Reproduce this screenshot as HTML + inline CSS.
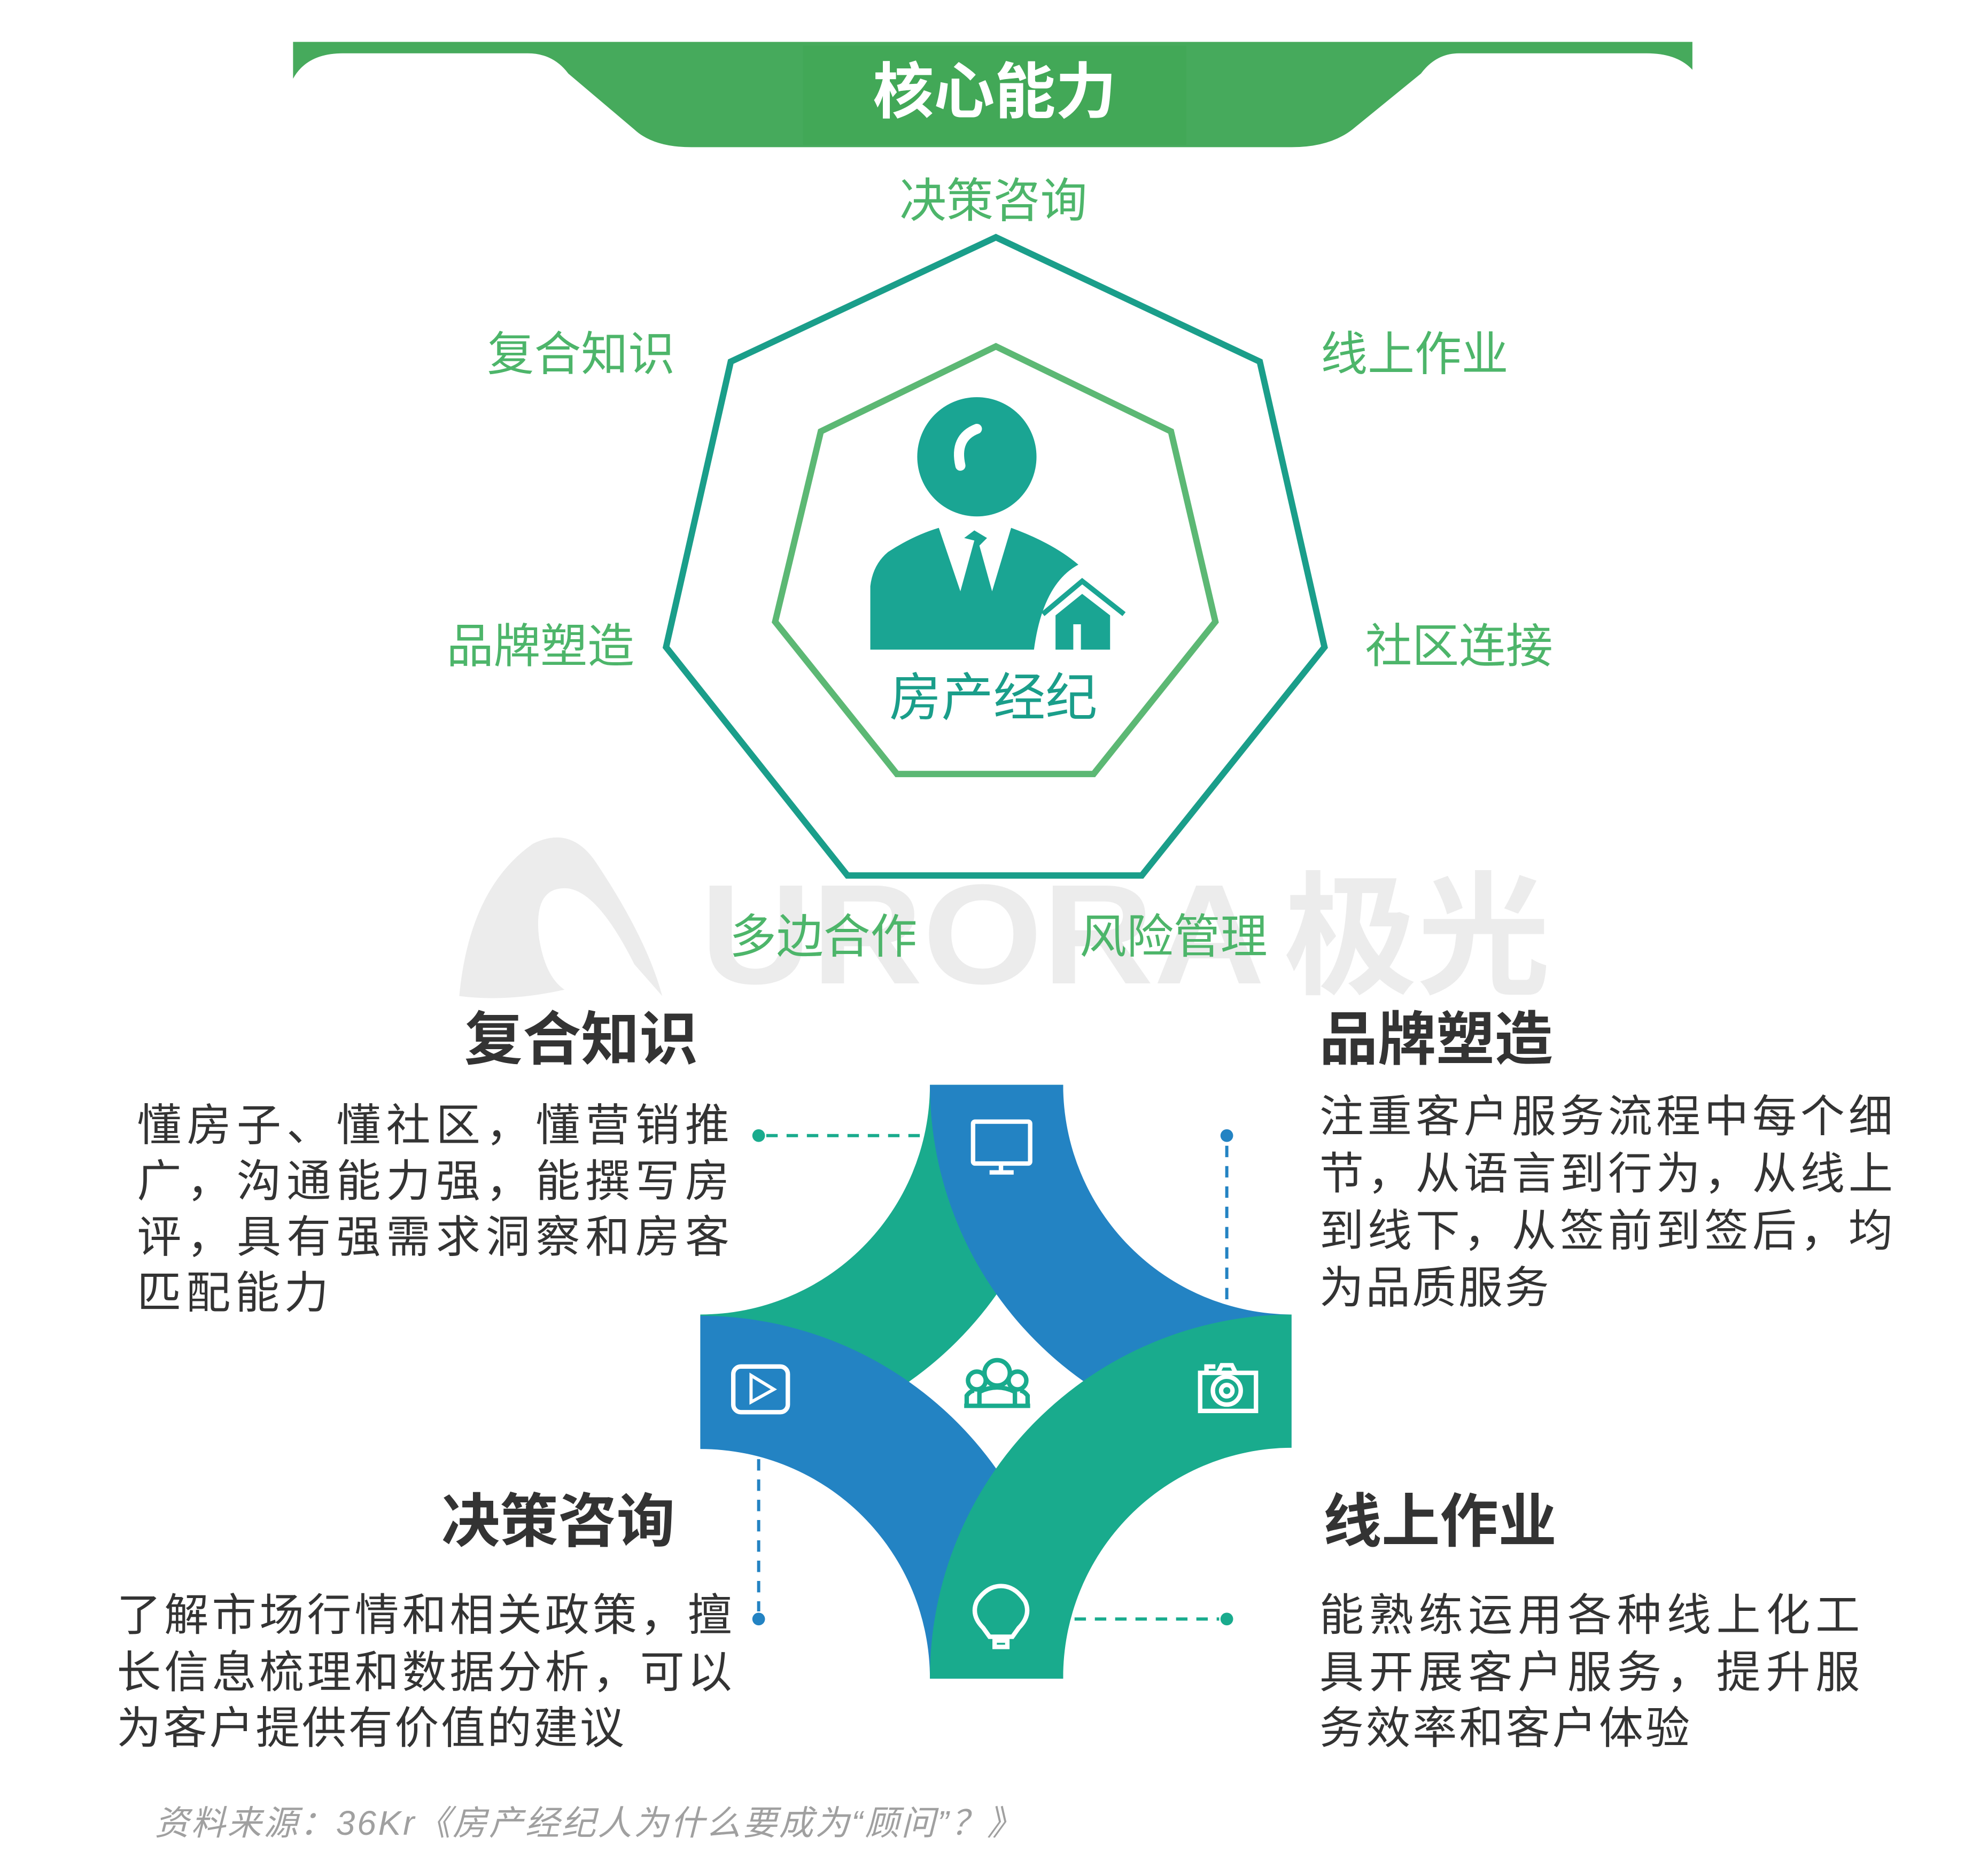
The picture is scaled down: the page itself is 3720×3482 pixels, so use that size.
<!DOCTYPE html>
<html><head><meta charset="utf-8"><style>
html,body{margin:0;padding:0;background:#fff;}
svg{display:block;}
text{font-family:"Liberation Sans","Noto Sans CJK SC",sans-serif;}
</style></head><body>
<svg width="3720" height="3482" viewBox="0 0 1567 1466.7" xmlns="http://www.w3.org/2000/svg">
<rect width="1600" height="1500" fill="#fff"/>
<!-- header -->
<path d="M231,33 H1334 V55 Q1322,42 1298,42 H1150 Q1132,42 1120,58 L1066,102 Q1048,116 1018,116 H545 Q515,116 500,102 L448,58 Q436,42 416,42 H270 Q242,42 231,62 Z" fill="#46aa5c"/>
<rect x="633" y="36" width="302" height="78" fill="#3fa653" opacity="0.6"/>
<text x="784" y="89" text-anchor="middle" font-size="48" font-weight="bold" fill="#fff">核心能力</text>

<!-- watermark -->
<g fill="#ececec">
<path d="M362,785 Q370,700 420,665 Q450,650 470,680 Q510,740 522,785 L500,760 Q470,700 445,700 Q420,700 425,740 Q430,770 445,780 Q400,790 362,785 Z"/>
<text x="552" y="775" font-size="112" font-weight="bold" textLength="445" lengthAdjust="spacingAndGlyphs">URORA</text>
<text x="1012" y="775" font-size="105" font-weight="bold">极光</text>
</g>

<!-- heptagons -->
<polygon points="785,187 993,285 1044,510 900,690 668,690 525,510 576,285" fill="none" stroke="#1a9e8a" stroke-width="5"/>
<polygon points="785,273 923,340 958,490 862,610 707,610 611,490 647,340" fill="none" stroke="#5cb874" stroke-width="5"/>

<g font-size="37" fill="#4db56a" text-anchor="middle">
<text x="783" y="171">决策咨询</text>
<text x="458" y="292">复合知识</text>
<text x="1115" y="292">线上作业</text>
<text x="426" y="522">品牌塑造</text>
<text x="1150" y="522">社区连接</text>
<text x="649" y="751">多边合作</text>
<text x="925" y="751">风险管理</text>
</g>

<!-- person -->
<circle cx="770" cy="360" r="47" fill="#1aa593"/>
<path d="M757,367 Q752,345 770,338" stroke="#fff" stroke-width="8" fill="none" stroke-linecap="round"/>
<path d="M686,512 V462 Q688,445 700,435 Q720,422 740,416 L757,466 L768,426 L760,424 L768,418 L778,424 L772,430 L782,466 L797,416 Q830,428 850,445 Q822,460 815,512 Z" fill="#1aa593"/>
<path d="M822,484 L853,458 L886,484" stroke="#1aa593" stroke-width="4" fill="none"/>
<path d="M832,512 V485 L853,468 L875,485 V512 Z" fill="#1aa593"/>
<rect x="846" y="492" width="6" height="20" fill="#fff"/>
<text x="783" y="564" text-anchor="middle" font-size="41" fill="#1a9e8a">房产经纪</text>

<!-- bottom figure: quarter annuli -->
<path d="M733,855 L838,855 A286,286 0 0 1 552,1141 L552,1036 A181,181 0 0 0 733,855 Z" fill="#19ab8d"/>
<path d="M552,1142 L552,1037 A286,286 0 0 1 838,1323 L733,1323 A181,181 0 0 0 552,1142 Z" fill="#2383c3"/>
<path d="M838,855 L733,855 A286,286 0 0 0 1018,1141 L1018,1036 A181,181 0 0 1 838,855 Z" fill="#2383c3"/>
<path d="M1018,1036 L1018,1141 A181,181 0 0 0 838,1323 L733,1323 A286,286 0 0 1 1018,1036 Z" fill="#19ab8d"/>

<!-- icons -->
<g stroke="#fff" stroke-width="3.5" fill="none">
<rect x="767" y="884" width="45" height="33" rx="1.5"/>
<path d="M780,924 H799 M789,917 V924"/>
<rect x="578" y="1077" width="43" height="36" rx="6"/>
<path d="M592,1084 V1105 L610,1095 Z" stroke-width="2.5"/>
<rect x="946" y="1082" width="44" height="30"/>
<circle cx="967" cy="1096" r="11"/><circle cx="967" cy="1096" r="4.5"/>
<path d="M951,1082 V1077 H958 M960,1082 L963,1076 H971 L974,1082"/>
<path d="M780,1290 L775,1283 Q765,1273 770,1262 Q778,1250 789,1250 Q800,1250 808,1262 Q813,1273 803,1283 L798,1290 Z"/>
<rect x="784" y="1293" width="10" height="5"/>
</g>
<circle cx="804" cy="1094" r="1.5" fill="#fff"/>
<g stroke="#19ab8d" stroke-width="3.5" fill="none">
<circle cx="786" cy="1082" r="10"/>
<circle cx="770" cy="1088" r="7"/><circle cx="802" cy="1088" r="7"/>
<path d="M772,1108 V1097 Q786,1090 800,1097 V1108"/>
<path d="M762,1108 V1100 Q765,1096 768,1096 M810,1108 V1100 Q807,1096 804,1096"/>
<path d="M760,1108 H812"/>
</g>

<!-- connectors -->
<g stroke-width="2.5" stroke-dasharray="9,7" fill="none">
<path d="M604,895 H733" stroke="#19ab8d"/>
<path d="M967,903 V1030" stroke="#2383c3"/>
<path d="M598,1150 V1270" stroke="#2383c3"/>
<path d="M847,1276 H961" stroke="#19ab8d"/>
</g>
<circle cx="598" cy="895" r="5" fill="#19ab8d"/>
<circle cx="967" cy="895" r="5" fill="#2383c3"/>
<circle cx="598" cy="1276" r="5" fill="#2383c3"/>
<circle cx="967" cy="1276" r="5" fill="#19ab8d"/>

<!-- headings -->
<g font-size="46" font-weight="bold" fill="#333">
<text x="458" y="835" text-anchor="middle">复合知识</text>
<text x="1040" y="835">品牌塑造</text>
<text x="440" y="1215" text-anchor="middle">决策咨询</text>
<text x="1043" y="1215">线上作业</text>
</g>

<!-- paragraphs -->
<g font-size="35" fill="#333">
<text x="108" y="899" textLength="467">懂房子、懂社区，懂营销推</text>
<text x="108" y="943" textLength="467">广，沟通能力强，能撰写房</text>
<text x="108" y="987" textLength="467">评，具有强需求洞察和房客</text>
<text x="108" y="1031" textLength="151">匹配能力</text>

<text x="1040" y="892" textLength="452">注重客户服务流程中每个细</text>
<text x="1040" y="937" textLength="452">节，从语言到行为，从线上</text>
<text x="1040" y="982" textLength="452">到线下，从签前到签后，均</text>
<text x="1040" y="1027" textLength="181">为品质服务</text>

<text x="92" y="1285" textLength="485">了解市场行情和相关政策，擅</text>
<text x="92" y="1330" textLength="485">长信息梳理和数据分析，可以</text>
<text x="92" y="1374" textLength="400">为客户提供有价值的建议</text>

<text x="1040" y="1285" textLength="426">能熟练运用各种线上化工</text>
<text x="1040" y="1330" textLength="426">具开展客户服务，提升服</text>
<text x="1040" y="1374" textLength="292">务效率和客户体验</text>
</g>

<text x="122" y="1446" font-size="27" font-style="italic" fill="#a0a0a0" textLength="683">资料来源：36Kr《房产经纪人为什么要成为“顾问”？》</text>
</svg>
</body></html>
